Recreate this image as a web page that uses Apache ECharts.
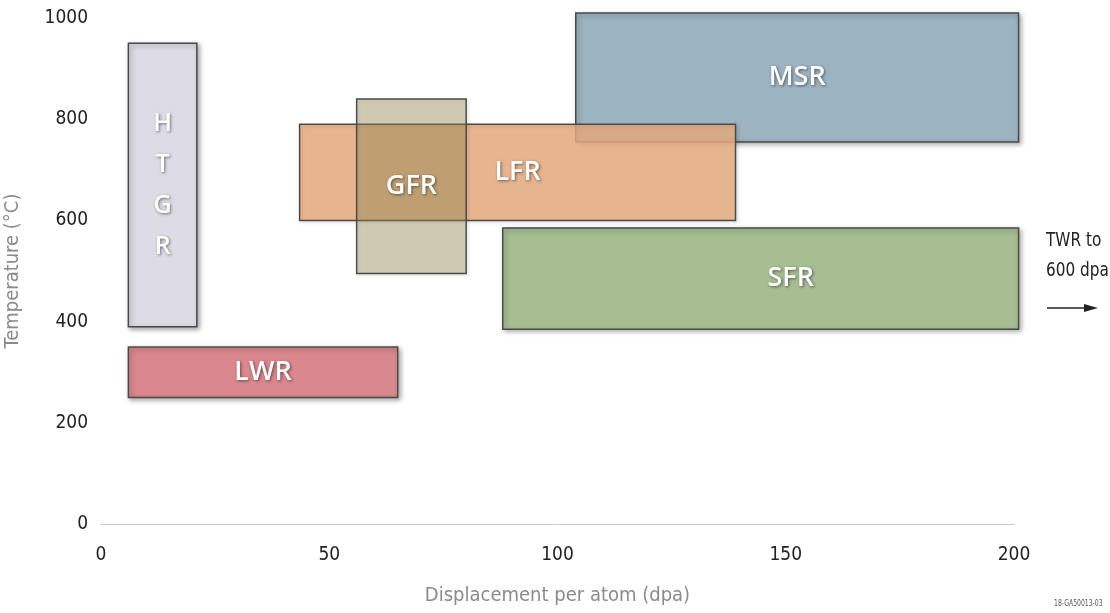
<!DOCTYPE html>
<html>
<head>
<meta charset="utf-8">
<script src="https://cdn.jsdelivr.net/npm/echarts@6/dist/echarts.min.js"></script>
<style>
  html, body { margin: 0; padding: 0; background: #fff; }
  #chart { width: 1110px; height: 613px; }
</style>
</head>
<body>
<div id="chart"></div>
<script>
// reactor operating windows: dpa range and temperature range
const reactors = ['HTGR', 'LWR', 'MSR', 'LFR', 'GFR', 'SFR'];
const dpaMin  = [6, 6, 104, 43.5, 56, 88];
const dpaMax  = [21, 65, 201, 139, 80, 201];
const tempMin = [390, 250, 755, 600, 495, 385];
const tempMax = [950, 350, 1010, 790, 840, 585];
const xTicks = [0, 50, 100, 150, 200];
const yTicks = [0, 200, 400, 600, 800, 1000];

const narrow = '"DejaVu Sans Condensed", "Roboto Condensed", Roboto, sans-serif';

const fills = {
  HTGR: 'rgba(221,219,229,1)',
  LWR: 'rgba(218,135,141,1)',
  MSR: 'rgba(156,179,193,1)',
  LFR: 'rgba(229,170,126,0.85)',
  GFR: 'rgba(147,137,82,0.4)',
  SFR: 'rgba(166,190,146,1)'
};
// translucent boxes get a lighter shadow, since it shows through the fill
const seeThrough = ['LFR', 'GFR'];

const rows = reactors.map((n, i) => [dpaMin[i], dpaMax[i], tempMin[i], tempMax[i], i]);

const chart = echarts.init(document.getElementById('chart'));

chart.setOption({
  animation: false,
  grid: { left: 101, right: 96, top: 18, bottom: 89, containLabel: false, outerBoundsMode: 'none' },
  xAxis: {
    type: 'value', min: 0, max: 200, interval: 50,
    name: 'Displacement per atom (dpa)',
    nameLocation: 'middle', nameGap: 62,
    nameTextStyle: { color: '#8a8a8a', fontSize: 20, fontFamily: narrow },
    axisLine: { show: true, lineStyle: { color: '#cccccc', width: 1 } },
    axisTick: { show: false },
    splitLine: { show: false },
    axisLabel: {
      margin: 22, color: '#222', fontSize: 19, fontFamily: narrow,
      formatter: v => xTicks.includes(v) ? String(v) : ''
    }
  },
  yAxis: {
    type: 'value', min: 0, max: 1000, interval: 200,
    name: 'Temperature (°C)',
    nameLocation: 'middle', nameGap: 78, nameRotate: 90,
    nameTextStyle: { color: '#8a8a8a', fontSize: 20, fontFamily: narrow },
    axisLine: { show: false },
    axisTick: { show: false },
    splitLine: { show: false },
    axisLabel: {
      margin: 13, color: '#222', fontSize: 19, fontFamily: narrow,
      formatter: v => yTicks.includes(v) ? String(v) : ''
    }
  },
  series: [{
    type: 'custom',
    data: rows,
    renderItem: (params, api) => {
      const name = reactors[api.value(4)];
      const p0 = api.coord([api.value(0), api.value(3)]);
      const p1 = api.coord([api.value(1), api.value(2)]);
      const w = p1[0] - p0[0], h = p1[1] - p0[1];
      const vertical = name === 'HTGR';
      const label = vertical ? name.split('').join('\n') : name;
      const offsetX = name === 'SFR' ? 30 : 0;
      const light = seeThrough.includes(name);
      return {
        type: 'rect',
        shape: { x: p0[0], y: p0[1], width: w, height: h },
        style: {
          fill: fills[name],
          stroke: '#4a4a4a',
          lineWidth: 1.5,
          shadowBlur: light ? 3 : 5,
          shadowOffsetX: 2,
          shadowOffsetY: 2,
          shadowColor: light ? 'rgba(0,0,0,0.12)' : 'rgba(0,0,0,0.35)'
        },
        textContent: {
          style: {
            text: label,
            fill: '#ffffff',
            fontSize: vertical ? 25 : 27,
            fontWeight: 600,
            fontFamily: 'Open Sans',
            lineHeight: vertical ? 41 : 34,
            align: 'center',
            textShadowColor: 'rgba(0,0,0,0.5)',
            textShadowBlur: 3,
            textShadowOffsetX: 1,
            textShadowOffsetY: 1
          }
        },
        textConfig: { position: 'inside', offset: [offsetX, 0] }
      };
    }
  }],
  graphic: [
    {
      type: 'text', x: 1046, y: 226, scaleX: 0.85,
      style: { text: 'TWR to\n600 dpa', fontSize: 20, lineHeight: 30, fill: '#222', fontFamily: narrow }
    },
    {
      type: 'line', shape: { x1: 1047, y1: 308, x2: 1086, y2: 308 },
      style: { stroke: '#222', lineWidth: 1.5 }
    },
    {
      type: 'polygon', shape: { points: [[1084, 304], [1098, 308], [1084, 312]] },
      style: { fill: '#222' }
    },
    {
      type: 'text', x: 1054, y: 600, scaleX: 0.85,
      style: { text: '18-GA50013-03', fontSize: 8, fill: '#555', fontFamily: narrow }
    }
  ]
});
</script>
</body>
</html>
